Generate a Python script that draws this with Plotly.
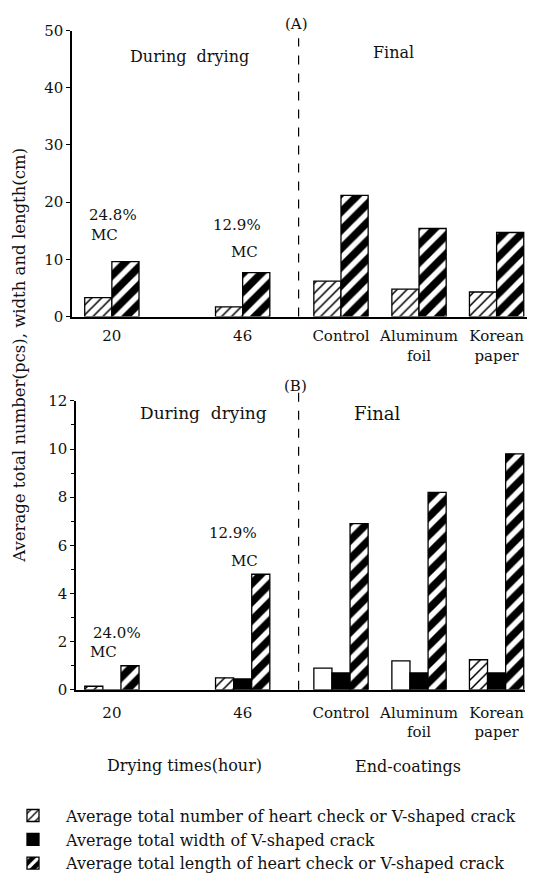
import plotly.graph_objects as go

# ---- data -------------------------------------------------------------
categories = ["20", "46", "Control", "Aluminum<br>foil", "Korean<br>paper"]

# (A) crack width and length, cm
a_width = [3.3, 1.7, 6.2, 4.8, 4.3]
a_length = [9.6, 7.7, 21.2, 15.4, 14.7]

# (B) averages per specimen
b_number = [0.15, 0.5, 0.9, 1.2, 1.25]
b_width = [0.0, 0.45, 0.7, 0.7, 0.7]
b_length = [1.0, 4.8, 6.9, 8.2, 9.8]

mc_a = ["24.8%", "12.9%"]
mc_b = ["24.0%", "12.9%"]

legend_names = [
    "Average total number of heart check or V-shaped crack",
    "Average total width of V-shaped crack",
    "Average total length of heart check or V-shaped crack",
]

# ---- layout constants -------------------------------------------------
W, H = 541, 884
group_x = [0.84, 3.74, 5.92, 7.65, 9.37]   # slot of each category on the x axis
divider_x = 4.98                           # boundary between drying and final
FONT = "DejaVu Serif"
INK = "#111111"


def px(x):
    return x / W


def py(y):
    return 1 - y / H


light = dict(shape="/", bgcolor="white", fgcolor="black", size=7,
             solidity=0.22, fillmode="replace")
dark = dict(shape="/", bgcolor="black", fgcolor="white", size=13,
            solidity=0.42, fillmode="replace")
outline = dict(color="black", width=1.3)

fig = go.Figure()

# (A) panel
fig.add_trace(go.Bar(x=group_x, y=a_width, xaxis="x", yaxis="y",
                     marker=dict(color="white", pattern=light, line=outline),
                     showlegend=False))
fig.add_trace(go.Bar(x=group_x, y=a_length, xaxis="x", yaxis="y",
                     marker=dict(color="black", pattern=dark, line=outline),
                     showlegend=False))

# (B) panel
num_pattern = dict(light)
num_pattern["shape"] = ["/", "/", "", "", "/"]
fig.add_trace(go.Bar(x=group_x, y=b_number, xaxis="x2", yaxis="y2",
                     name=legend_names[0],
                     marker=dict(color="white", pattern=num_pattern, line=outline)))
fig.add_trace(go.Bar(x=group_x, y=b_width, xaxis="x2", yaxis="y2",
                     name=legend_names[1],
                     marker=dict(color="black", line=outline)))
fig.add_trace(go.Bar(x=group_x, y=b_length, xaxis="x2", yaxis="y2",
                     name=legend_names[2],
                     marker=dict(color="black", pattern=dark, line=outline)))

axis_common = dict(showgrid=False, zeroline=False, showline=True,
                   linecolor="black", linewidth=1.5,
                   tickfont=dict(family=FONT, size=15, color=INK))

fig.update_layout(
    width=W, height=H,
    margin=dict(l=0, r=0, t=0, b=0, pad=0),
    paper_bgcolor="white", plot_bgcolor="white",
    barmode="group", bargap=0.3, bargroupgap=0,
    font=dict(family=FONT, size=15, color=INK),
    xaxis=dict(domain=[px(72), px(527)], range=[-0.044, 10.044], anchor="y",
               tickmode="array", tickvals=group_x, ticktext=categories,
               ticks="", ticklabelstandoff=5, **axis_common),
    yaxis=dict(domain=[py(314), py(22)], range=[0, 50], anchor="x",
               dtick=10, ticks="outside", ticklen=4, tickwidth=1.3,
               tickcolor="black", **axis_common),
    xaxis2=dict(domain=[px(76), px(525)], range=[0.044, 10.0], anchor="y2",
                tickmode="array", tickvals=group_x, ticktext=categories,
                ticks="", ticklabelstandoff=8, **axis_common),
    yaxis2=dict(domain=[py(695), py(400)], range=[0, 12], anchor="x2",
                dtick=2, ticks="outside", ticklen=4, tickwidth=1.3,
                tickcolor="black",
                minor=dict(dtick=1, ticks="outside", ticklen=3,
                           tickcolor="black", tickwidth=1.2),
                **axis_common),
    legend=dict(x=0, y=py(806), xanchor="left", yanchor="top",
                font=dict(family=FONT, size=16, color=INK),
                itemwidth=56, tracegroupgap=0, bgcolor="rgba(0,0,0,0)",
                traceorder="normal"),
)

# dashed separators between the drying stages and the final state
fig.add_shape(type="line", xref="x", yref="y domain", x0=divider_x, x1=divider_x,
              y0=0, y1=0.973, line=dict(color="black", width=1.2, dash="dash"))
fig.add_shape(type="line", xref="x2", yref="y2 domain", x0=divider_x, x1=divider_x,
              y0=0, y1=1.034, line=dict(color="black", width=1.2, dash="dash"))


def note(text, x, y, size=15, **kw):
    fig.add_annotation(text=text, x=px(x), y=py(y), xref="paper", yref="paper",
                       showarrow=False, xanchor="center", yanchor="middle",
                       font=dict(family=FONT, size=size, color=INK), **kw)


note("(A)", 296, 15)
note("(B)", 295, 385)
note("During  drying", 189, 48, 16)
note("Final", 393, 44, 16)
note("During  drying", 203, 412, 17)
note("Final", 377, 413, 18)

note(mc_a[0], 113, 210)
note("MC", 105, 231)
note(mc_a[1], 237, 220)
note("MC", 244, 248)
note(mc_b[0], 117, 637)
note("MC", 103, 656)
note(mc_b[1], 233, 535)
note("MC", 244, 563)

note("Average total number(pcs), width and length(cm)", 20, 354, 16.5, textangle=-90)
note("Drying times(hour)", 184, 772, 16)
note("End-coatings", 408, 773, 16)

fig.write_html("out.html")
